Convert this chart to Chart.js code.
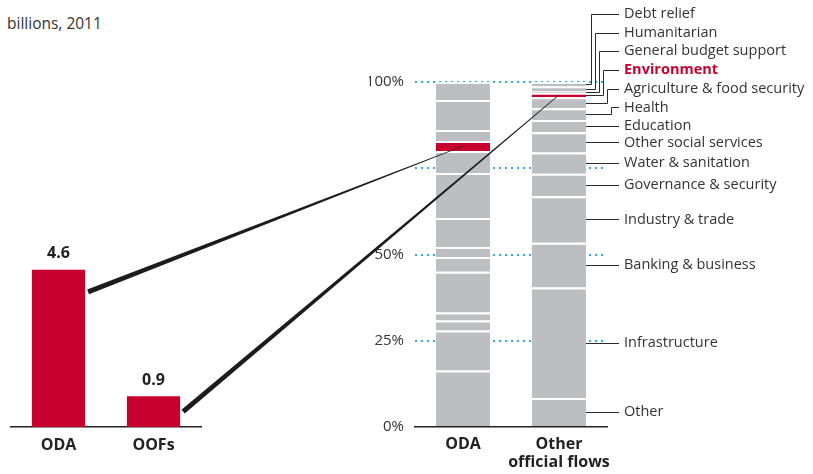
<!DOCTYPE html>
<html>
<head>
<meta charset="utf-8">
<script src="https://cdn.jsdelivr.net/npm/chart.js@4.4.1/dist/chart.umd.min.js"></script>
<style>
  body { margin: 0; background: #fff; }
  #wrap { position: relative; width: 813px; height: 474px; overflow: hidden; }
  #wrap canvas { position: absolute; left: 0; top: 0; }
  .sub { position: absolute; left: 7px; top: 12px; font: 15.5px 'Open Sans', sans-serif; color: #333; }
</style>
</head>
<body>
<div id="wrap">
  <div class="sub">billions, 2011</div>
  <canvas id="envChart" width="813" height="474"></canvas>
  <canvas id="shareChart" width="813" height="474"></canvas>
</div>
<script>
// left panel: environment-focused aid, USD billions
const envLabels = ['ODA', 'OOFs'];
const envValues = [4.6, 0.9];

// right panel: sector shares (%), listed top to bottom
const flowLabels = ['ODA', ['Other', 'official flows']];
const sectors = ['Debt relief', 'Humanitarian', 'General budget support', 'Environment',
  'Agriculture & food security', 'Health', 'Education', 'Other social services',
  'Water & sanitation', 'Governance & security', 'Industry & trade',
  'Banking & business', 'Infrastructure', 'Other'];
const odaShare = [5.2, 8.7, 3.2, 2.9, 6.4, 13.0, 8.4, 2.9, 4.3, 11.8, 2.3, 2.9, 11.6, 16.4];
const oofShare = [1.2, 1.4, 0.5, 1.3, 3.2, 3.4, 3.6, 5.8, 6.2, 6.5, 13.5, 13.0, 32.0, 8.4];
const pctTicks = {0: '0%', 25: '25%', 50: '50%', 75: '', 100: '100%'};

const FONT = "'Open Sans', 'Noto Sans', sans-serif";
const RED = '#c8002d';
const GREY = '#bdbec1';
const CYAN = '#2fabe0';
const INK = '#222';

// value labels above the left bars
const valueLabels = {
  id: 'valueLabels',
  afterDatasetsDraw(chart) {
    const ctx = chart.ctx;
    ctx.save();
    ctx.font = 'bold 16px ' + FONT;
    ctx.fillStyle = INK;
    ctx.textAlign = 'center';
    ctx.textBaseline = 'middle';
    chart.getDatasetMeta(0).data.forEach((bar, i) => {
      ctx.fillText(envValues[i].toFixed(1), bar.x, bar.y - 16);
    });
    ctx.restore();
  }
};

const envChart = new Chart(document.getElementById('envChart'), {
  type: 'bar',
  data: {
    labels: envLabels,
    datasets: [{
      data: envValues,
      backgroundColor: RED,
      barPercentage: 0.56,
      categoryPercentage: 1
    }]
  },
  options: {
    responsive: false,
    animation: false,
    layout: { padding: { left: 11, right: 612, top: 82, bottom: 0 } },
    plugins: { legend: { display: false }, tooltip: { enabled: false } },
    scales: {
      x: {
        z: 1,
        grid: { display: false, drawTicks: false },
        border: { color: INK, width: 1.5 },
        ticks: { font: { family: FONT, size: 16, weight: 'bold' }, color: INK, padding: 9,
          maxRotation: 0, minRotation: 0, autoSkip: false },
        afterFit: s => { s.height = 47; }
      },
      y: { display: false, min: 0, max: 10.1 }
    }
  },
  plugins: [valueLabels]
});

// datasets stack bottom-up, so build them from the last sector
const dsIndex = i => sectors.length - 1 - i;
const shareSets = sectors.slice().reverse().map((name, k) => {
  const i = sectors.length - 1 - k;
  return {
    label: name,
    data: [odaShare[i], oofShare[i]],
    backgroundColor: name === 'Environment' ? RED : GREY,
    borderColor: '#fff',
    borderWidth: { top: 2, bottom: 0, left: 0, right: 0 },
    borderSkipped: false,
    stack: 's',
    barPercentage: 0.5625,
    categoryPercentage: 1
  };
});

function taper(ctx, x0, y0, x1, y1, w0, w1) {
  const len = Math.hypot(x1 - x0, y1 - y0);
  const nx = -(y1 - y0) / len, ny = (x1 - x0) / len;
  ctx.beginPath();
  ctx.moveTo(x0 + nx * w0, y0 + ny * w0);
  ctx.lineTo(x1 + nx * w1, y1 + ny * w1);
  ctx.lineTo(x1 - nx * w1, y1 - ny * w1);
  ctx.lineTo(x0 - nx * w0, y0 - ny * w0);
  ctx.closePath();
  ctx.fill();
}

// wedge lines from the left bars to the environment slice
const connectors = {
  id: 'connectors',
  afterDatasetsDraw(chart) {
    const ctx = chart.ctx;
    const envMeta = chart.getDatasetMeta(dsIndex(sectors.indexOf('Environment')));
    const leftMeta = envChart.getDatasetMeta(0);
    ctx.save();
    ctx.fillStyle = '#1c1c1c';
    for (let i = 0; i < 2; i++) {
      const a = leftMeta.data[i], b = envMeta.data[i];
      const h = a.base - a.y;
      taper(ctx, a.x + a.width / 2 + 3, a.y + Math.min(22, h / 2),
        b.x, (b.y + b.base) / 2, 2.6, 0.35);
    }
    ctx.restore();
  }
};

const snap = v => Math.round(v) + 0.5;

// sector names with leader lines off the OOF bar
const sectorLabels = {
  id: 'sectorLabels',
  afterDraw(chart) {
    const ctx = chart.ctx;
    const bars = sectors.map((s, i) => chart.getDatasetMeta(dsIndex(i)).data[1]);
    const mids = bars.map(b => (b.y + b.base) / 2);
    const right = Math.round(bars[0].x + bars[0].width / 2);
    const ys = [];
    let prev = Infinity;
    for (let i = sectors.length - 1; i >= 0; i--) {
      ys[i] = mids[i] <= prev - 15 ? mids[i] : prev - 18.7;
      prev = ys[i];
    }
    ctx.save();
    ctx.strokeStyle = '#2a2a2a';
    ctx.lineWidth = 1;
    sectors.forEach((name, i) => {
      ctx.beginPath();
      const y = snap(ys[i]);
      if (mids[i] - ys[i] > 0.5) {
        const ex = snap(right + 5 + i * 4);
        const m = snap(mids[i]);
        ctx.moveTo(right, m);
        ctx.lineTo(ex, m);
        ctx.lineTo(ex, y);
        ctx.lineTo(right + 33, y);
      } else {
        ctx.moveTo(right, y);
        ctx.lineTo(right + 33, y);
      }
      ctx.stroke();
      const env = name === 'Environment';
      ctx.font = (env ? 'bold ' : '') + '14.5px ' + FONT;
      ctx.fillStyle = env ? RED : '#333';
      ctx.textBaseline = 'middle';
      ctx.fillText(name, right + 38, ys[i]);
    });
    ctx.restore();
  }
};

new Chart(document.getElementById('shareChart'), {
  type: 'bar',
  data: { labels: flowLabels, datasets: shareSets },
  options: {
    responsive: false,
    animation: false,
    layout: { padding: { left: 369, right: 206, top: 82, bottom: 0 } },
    plugins: { legend: { display: false }, tooltip: { enabled: false } },
    scales: {
      x: {
        stacked: true,
        z: 1,
        grid: { display: false, drawTicks: false },
        border: { color: INK, width: 1.5 },
        ticks: { font: { family: FONT, size: 16, weight: 'bold', lineHeight: 1.1 }, color: INK, padding: 9,
          maxRotation: 0, minRotation: 0, autoSkip: false },
        afterFit: s => { s.height = 47; }
      },
      y: {
        stacked: true,
        min: 0,
        max: 100,
        grid: {
          drawTicks: false,
          lineWidth: 2,
          color: c => (c.tick && c.tick.value === 0) ? 'rgba(0,0,0,0)' : CYAN
        },
        border: { display: false, dash: [2, 4] },
        ticks: {
          stepSize: 25,
          padding: 11,
          font: { family: FONT, size: 15 },
          color: '#333',
          callback: v => pctTicks[v]
        },
        afterFit: s => { s.width = 46; }
      }
    }
  },
  plugins: [connectors, sectorLabels]
});
</script>
</body>
</html>
